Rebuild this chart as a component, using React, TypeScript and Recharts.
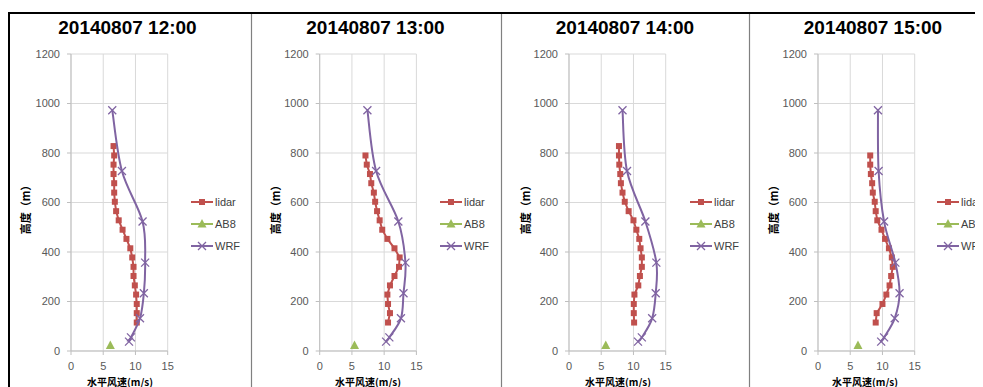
import { ScatterChart, Scatter, XAxis, YAxis, CartesianGrid, Legend } from 'recharts'

// heights (m) of the lidar gates and the WRF model levels
const lidarHeights = [115, 153, 190, 228, 265, 303, 340, 378, 415, 453, 490, 528, 565, 603, 640, 678, 715, 753, 790, 828]
const wrfHeights = [38, 55, 132, 233, 357, 523, 727, 973]
const ab8Heights = [22]

// horizontal wind speed (m/s), bottom to top
const lidar12 = [10.2, 10.2, 10.2, 10.1, 9.9, 9.7, 9.7, 9.5, 9.2, 8.6, 8.0, 7.4, 7.0, 6.8, 6.7, 6.7, 6.6, 6.6, 6.7, 6.6]
const lidar13 = [10.6, 10.9, 10.6, 10.5, 10.9, 11.6, 12.3, 12.4, 11.6, 10.5, 9.7, 9.3, 8.9, 8.6, 8.4, 8.0, 7.8, 7.3, 7.1]
const lidar14 = [10.1, 10.05, 10.05, 10.15, 10.75, 11.0, 11.3, 11.3, 11.1, 10.9, 10.45, 10.0, 9.25, 8.65, 8.3, 8.05, 7.95, 7.8, 7.75, 7.75]
const lidar15 = [8.95, 9.1, 10.0, 10.6, 11.1, 11.35, 11.6, 11.45, 11.0, 10.4, 9.85, 9.2, 8.95, 8.8, 8.5, 8.4, 8.2, 8.1, 8.1]

const wrf12 = [9.0, 9.3, 10.7, 11.3, 11.5, 11.1, 7.9, 6.4]
const wrf13 = [10.3, 10.8, 12.6, 13.0, 13.3, 12.2, 8.75, 7.4]
const wrf14 = [10.7, 11.3, 12.9, 13.45, 13.55, 11.85, 9.0, 8.3]
const wrf15 = [9.8, 10.25, 11.9, 12.65, 12.0, 10.25, 9.4, 9.3]

const ab8_12 = [6.1]
const ab8_13 = [5.4]
const ab8_14 = [5.7]
const ab8_15 = [6.2]

const titles = ['20140807 12:00', '20140807 13:00', '20140807 14:00', '20140807 15:00']
const xTicks = [0, 5, 10, 15]
const yTicks = [0, 200, 400, 600, 800, 1000, 1200]

const RED = '#C0504D'
const GREEN = '#9BBB59'
const PURPLE = '#8064A2'
const FONT = '"Liberation Sans", Arial, sans-serif'
const CJK = '"Noto Sans CJK SC", sans-serif'

const rows = (heights: number[], speeds: number[]) => speeds.map((s, i) => ({ s, h: heights[i] }))

// Excel-style smoothed line (uniform Catmull-Rom through the points)
const excelSmooth = (context: any) => {
  let pts: number[][] = []
  return {
    areaStart() {},
    areaEnd() {},
    lineStart() {
      pts = []
    },
    point(x: number, y: number) {
      pts.push([+x, +y])
    },
    lineEnd() {
      const n = pts.length
      if (!n) return
      context.moveTo(pts[0][0], pts[0][1])
      for (let i = 0; i < n - 1; i++) {
        const p0 = pts[Math.max(i - 1, 0)]
        const p1 = pts[i]
        const p2 = pts[i + 1]
        const p3 = pts[Math.min(i + 2, n - 1)]
        context.bezierCurveTo(
          p1[0] + (p2[0] - p0[0]) / 6,
          p1[1] + (p2[1] - p0[1]) / 6,
          p2[0] - (p3[0] - p1[0]) / 6,
          p2[1] - (p3[1] - p1[1]) / 6,
          p2[0],
          p2[1],
        )
      }
    },
  }
}

const Square = ({ cx, cy }: any) => <rect x={cx - 3} y={cy - 3} width={6} height={6} fill={RED} />
const Triangle = ({ cx, cy }: any) => (
  <path d={`M${cx},${cy - 5}L${cx + 4.5},${cy + 3.5}L${cx - 4.5},${cy + 3.5}Z`} fill={GREEN} />
)
const Cross = ({ cx, cy }: any) => (
  <path
    d={`M${cx - 4},${cy - 4}L${cx + 4},${cy + 4}M${cx - 4},${cy + 4}L${cx + 4},${cy - 4}`}
    stroke={PURPLE}
    strokeWidth={1.3}
    fill="none"
  />
)

const legendItems = [
  { name: 'lidar', color: RED, Marker: Square },
  { name: 'AB8', color: GREEN, Marker: Triangle },
  { name: 'WRF', color: PURPLE, Marker: Cross },
]

const renderLegend = () => (
  <div style={{ fontFamily: FONT, fontSize: 11, color: '#404040' }}>
    {legendItems.map(({ name, color, Marker }) => (
      <div key={name} style={{ display: 'flex', alignItems: 'center', height: 22 }}>
        <svg width={24} height={12} style={{ display: 'block' }}>
          <line x1={0} y1={6} x2={22} y2={6} stroke={color} strokeWidth={2} />
          <Marker cx={11} cy={6} />
        </svg>
        <span>{name}</span>
      </div>
    ))}
  </div>
)

// panel geometry in page pixels
const borders = [8, 251, 501, 749]
const panelWidths = [243, 250, 248, 234]
const plotOffsets = [63, 68.7, 68, 69]
const legendOffsets = [183, 189, 189, 188]
const PLOT_W = 96.7
const CHART_H = 379

const panels = [
  { lidar: rows(lidarHeights, lidar12), wrf: rows(wrfHeights, wrf12), ab8: rows(ab8Heights, ab8_12) },
  { lidar: rows(lidarHeights, lidar13), wrf: rows(wrfHeights, wrf13), ab8: rows(ab8Heights, ab8_13) },
  { lidar: rows(lidarHeights, lidar14), wrf: rows(wrfHeights, wrf14), ab8: rows(ab8Heights, ab8_14) },
  { lidar: rows(lidarHeights, lidar15), wrf: rows(wrfHeights, wrf15), ab8: rows(ab8Heights, ab8_15) },
]

export default function App() {
  return (
    <div style={{ position: 'relative', width: 975, height: CHART_H, overflow: 'hidden', background: '#fff' }}>
      {panels.map((p, i) => {
        const off = plotOffsets[i]
        return (
          <div key={i} style={{ position: 'absolute', left: borders[i] - 8, top: 0 }}>
            <ScatterChart
              width={panelWidths[i]}
              height={CHART_H}
              margin={{ top: 46, right: panelWidths[i] - off - PLOT_W, bottom: 6, left: off - 40 }}
            >
              <CartesianGrid stroke="#D9D9D9" />
              <XAxis
                type="number"
                dataKey="s"
                domain={[0, 15]}
                ticks={xTicks}
                height={30}
                stroke="#BFBFBF"
                tickSize={4}
                tickMargin={7}
                tick={{ fill: '#595959', fontSize: 11, fontFamily: FONT }}
              />
              <YAxis
                type="number"
                dataKey="h"
                domain={[0, 1200]}
                ticks={yTicks}
                width={40}
                stroke="#BFBFBF"
                tickSize={4}
                tickMargin={7}
                tick={{ fill: '#595959', fontSize: 11, fontFamily: FONT }}
              />
              <Legend
                layout="vertical"
                align="center"
                verticalAlign="middle"
                content={renderLegend}
                wrapperStyle={{ left: legendOffsets[i], top: 183, width: 70, height: 66 }}
              />
              <Scatter
                name="lidar"
                data={p.lidar}
                line={{ stroke: RED, strokeWidth: 2 }}
                lineJointType="linear"
                shape={Square}
                isAnimationActive={false}
              />
              <Scatter name="AB8" data={p.ab8} shape={Triangle} isAnimationActive={false} />
              <Scatter
                name="WRF"
                data={p.wrf}
                line={{ stroke: PURPLE, strokeWidth: 2 }}
                lineJointType={excelSmooth as any}
                shape={Cross}
                isAnimationActive={false}
              />
            </ScatterChart>
          </div>
        )
      })}
      <svg
        width={975}
        height={CHART_H}
        style={{ position: 'absolute', left: 0, top: 0, pointerEvents: 'none' }}
      >
        <line x1={0} y1={5} x2={975} y2={5} stroke="#000" strokeWidth={2} />
        <line x1={1} y1={5} x2={1} y2={CHART_H} stroke="#000" strokeWidth={2} />
        {borders.slice(1).map((b) => (
          <line key={b} x1={b - 8 + 0.5} y1={6} x2={b - 8 + 0.5} y2={CHART_H} stroke="#808080" strokeWidth={1.2} />
        ))}
        {titles.map((t, i) => {
          const cx = [127.5, 375.5, 625, 873][i] - 8
          const ylx = [25, 275, 525, 773][i] - 8
          const xlx = [120, 368, 618, 865][i] - 8
          return (
            <g key={t}>
              <text x={cx} y={26} textAnchor="middle" fontFamily={FONT} fontWeight="bold" fontSize={19} fill="#000">
                {t}
              </text>
              <text
                x={ylx}
                y={199}
                transform={`rotate(-90 ${ylx} 199)`}
                textAnchor="middle"
                dominantBaseline="central"
                fontFamily={CJK}
                fontWeight="bold"
                fontSize={11}
                fill="#000"
              >
                高度（m）
              </text>
              <text x={xlx} y={377.5} textAnchor="middle" fontFamily={CJK} fontWeight="bold" fontSize={10} fill="#000">
                水平风速(m/s)
              </text>
            </g>
          )
        })}
      </svg>
    </div>
  )
}
